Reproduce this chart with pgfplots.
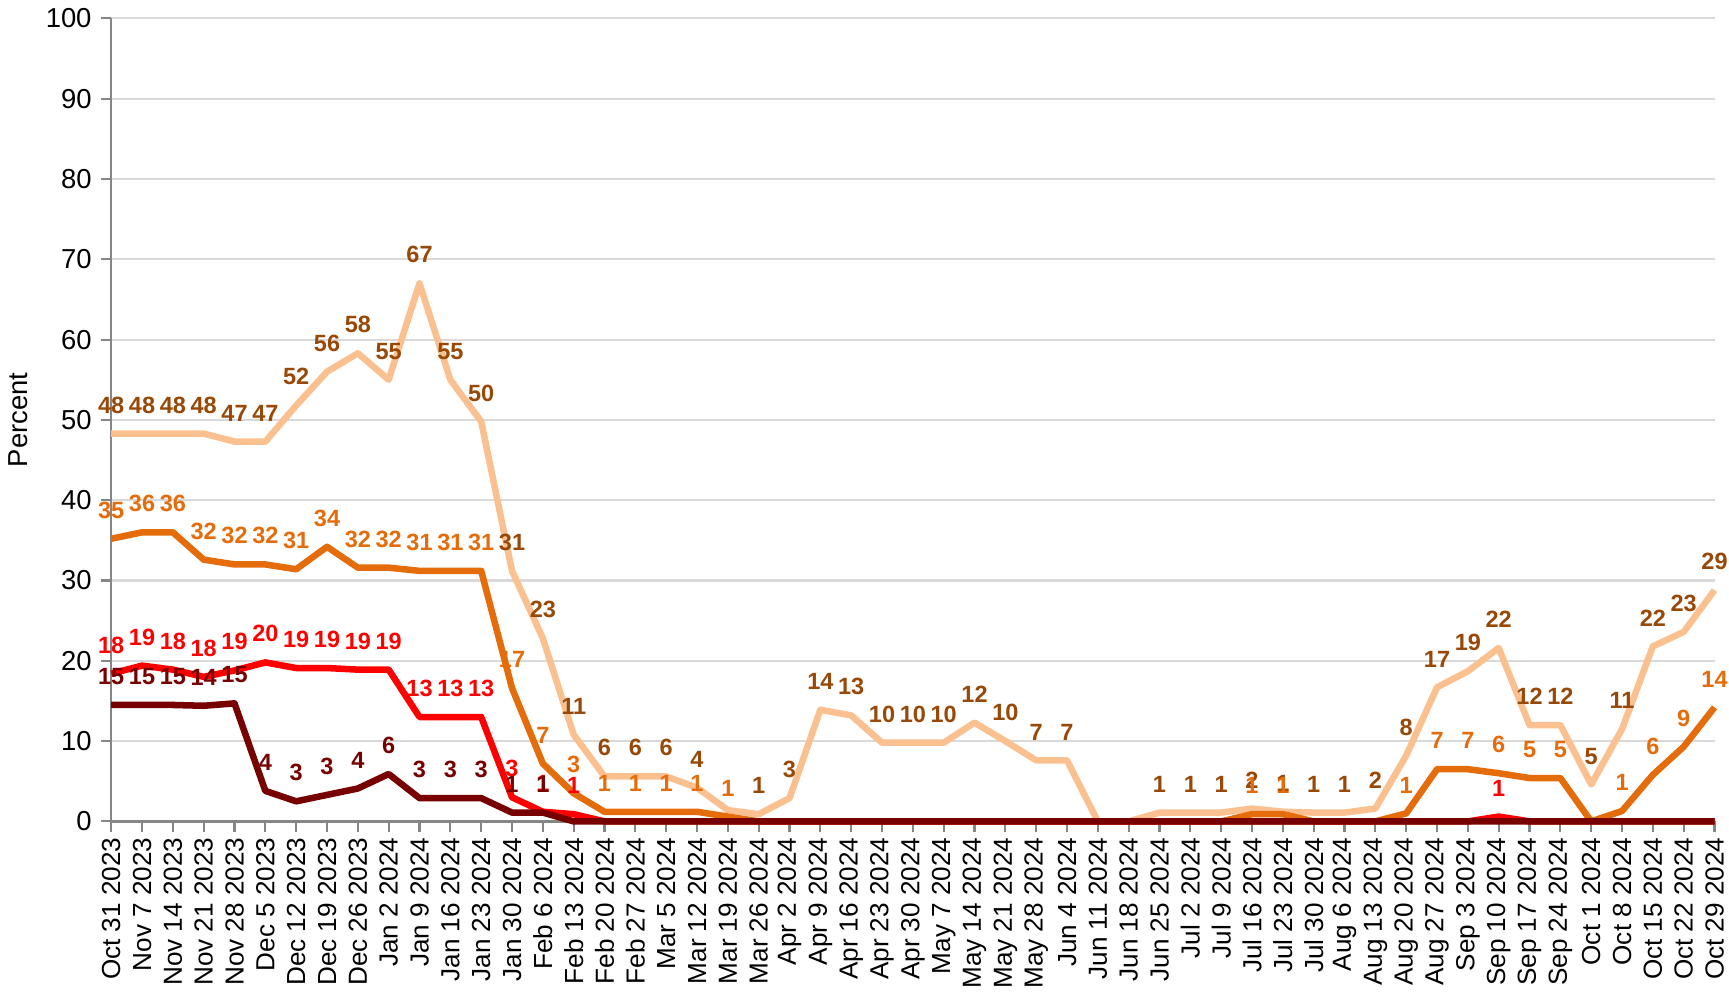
\documentclass[border=0pt]{standalone}
\usepackage{fontspec}
\setmainfont{Liberation Sans}
\usepackage{pgfplots}
\pgfplotsset{compat=1.18}
\definecolor{cLight}{HTML}{FAC090}
\definecolor{cBrown}{HTML}{984807}
\definecolor{cOrange}{HTML}{E46C0A}
\definecolor{cRed}{HTML}{FF0000}
\definecolor{cDark}{HTML}{770000}
\definecolor{cGrid}{HTML}{D9D9D9}
\definecolor{cAxis}{HTML}{868686}
\begin{document}
\begin{tikzpicture}
\begin{axis}[
  scale only axis, width=614pt, height=307.5pt,
  xmin=0, xmax=52, ymin=0, ymax=100,
  clip=false,
  axis lines*=left,
  axis line style={draw=cAxis, line width=0.9pt},
  tick align=outside,
  major tick length=4pt,
  tick style={draw=cAxis, line width=0.8pt},
  ymajorgrids, grid style={draw=cGrid, line width=0.8pt},
  ytick={0,10,...,100},
  xtick={0,...,52},
  xticklabels={Oct 31 2023, Nov 7 2023, Nov 14 2023, Nov 21 2023, Nov 28 2023, Dec 5 2023, Dec 12 2023, Dec 19 2023, Dec 26 2023, Jan 2 2024, Jan 9 2024, Jan 16 2024, Jan 23 2024, Jan 30 2024, Feb 6 2024, Feb 13 2024, Feb 20 2024, Feb 27 2024, Mar 5 2024, Mar 12 2024, Mar 19 2024, Mar 26 2024, Apr 2 2024, Apr 9 2024, Apr 16 2024, Apr 23 2024, Apr 30 2024, May 7 2024, May 14 2024, May 21 2024, May 28 2024, Jun 4 2024, Jun 11 2024, Jun 18 2024, Jun 25 2024, Jul 2 2024, Jul 9 2024, Jul 16 2024, Jul 23 2024, Jul 30 2024, Aug 6 2024, Aug 13 2024, Aug 20 2024, Aug 27 2024, Sep 3 2024, Sep 10 2024, Sep 17 2024, Sep 24 2024, Oct 1 2024, Oct 8 2024, Oct 15 2024, Oct 22 2024, Oct 29 2024},
  x tick label style={rotate=90, anchor=east, font=\fontsize{10}{12}\selectfont, inner sep=2pt},
  y tick label style={font=\fontsize{10.5}{12}\selectfont},
  /pgf/number format/assume math mode=true,
  ylabel={Percent},
  ylabel style={font=\fontsize{10.5}{12}\selectfont},
  point meta=explicit symbolic,
  nodes near coords={\pgfplotspointmeta},
  every node near coord/.append style={font=\fontsize{9}{10}\selectfont\bfseries, anchor=south, inner sep=0pt, yshift=6.5pt},
  every axis plot/.append style={line width=2.5pt, no markers, line join=round},
]
% light series
\addplot[color=cLight, every node near coord/.append style={text=cBrown}] coordinates {
(0,48.3)[48] (1,48.3)[48] (2,48.3)[48] (3,48.3)[48] (4,47.3)[47] (5,47.3)[47]
(6,51.8)[52] (7,56.0)[56] (8,58.3)[58] (9,55.0)[55] (10,67.0)[67] (11,55.0)[55]
(12,49.8)[50] (13,31.2)[31] (14,22.8)[23] (15,10.8)[11] (16,5.6)[6] (17,5.6)[6]
(18,5.6)[6] (19,4.2)[4] (20,1.4)[] (21,0.9)[1] (22,2.9)[3] (23,13.9)[14]
(24,13.2)[13] (25,9.8)[10] (26,9.8)[10] (27,9.8)[10] (28,12.3)[12] (29,10.0)[10]
(30,7.6)[7] (31,7.6)[7] (32,0)[] (33,0)[] (34,1.1)[1] (35,1.1)[1]
(36,1.1)[1] (37,1.6)[2] (38,1.2)[1] (39,1.1)[1] (40,1.1)[1] (41,1.6)[2]
(42,8.2)[8] (43,16.7)[17] (44,18.7)[19] (45,21.6)[22] (46,12.0)[12] (47,12.0)[12]
(48,4.6)[5] (49,11.5)[11] (50,21.8)[22] (51,23.6)[23] (52,28.8)[29]
};
% orange series
\addplot[color=cOrange, every node near coord/.append style={text=cOrange}] coordinates {
(0,35.2)[35] (1,36.0)[36] (2,36.0)[36] (3,32.6)[32] (4,32.0)[32] (5,32.0)[32]
(6,31.4)[31] (7,34.2)[34] (8,31.6)[32] (9,31.6)[32] (10,31.2)[31] (11,31.2)[31]
(12,31.2)[31] (13,16.6)[17] (14,7.2)[7] (15,3.5)[3] (16,1.2)[1] (17,1.2)[1]
(18,1.2)[1] (19,1.2)[1] (20,0.6)[1] (21,0)[] (22,0)[] (23,0)[]
(24,0)[] (25,0)[] (26,0)[] (27,0)[] (28,0)[] (29,0)[]
(30,0)[] (31,0)[] (32,0)[] (33,0)[] (34,0)[] (35,0)[]
(36,0)[] (37,0.9)[1] (38,0.9)[1] (39,0)[] (40,0)[] (41,0)[]
(42,1.0)[1] (43,6.5)[7] (44,6.5)[7] (45,6.0)[6] (46,5.4)[5] (47,5.4)[5]
(48,0)[] (49,1.3)[1] (50,5.8)[6] (51,9.3)[9] (52,14.2)[14]
};
% red series
\addplot[color=cRed, every node near coord/.append style={text=cRed}] coordinates {
(0,18.4)[18] (1,19.4)[19] (2,18.9)[18] (3,18.0)[18] (4,18.8)[19] (5,19.8)[20]
(6,19.1)[19] (7,19.1)[19] (8,18.9)[19] (9,18.9)[19] (10,13.0)[13] (11,13.0)[13]
(12,13.0)[13] (13,3.0)[3] (14,1.2)[1] (15,0.9)[1] (16,0)[] (17,0)[]
(18,0)[] (19,0)[] (20,0)[] (21,0)[] (22,0)[] (23,0)[]
(24,0)[] (25,0)[] (26,0)[] (27,0)[] (28,0)[] (29,0)[]
(30,0)[] (31,0)[] (32,0)[] (33,0)[] (34,0)[] (35,0)[]
(36,0)[] (37,0)[] (38,0)[] (39,0)[] (40,0)[] (41,0)[]
(42,0)[] (43,0)[] (44,0)[] (45,0.6)[1] (46,0)[] (47,0)[]
(48,0)[] (49,0)[] (50,0)[] (51,0)[] (52,0)[]
};
% dark series
\addplot[color=cDark, every node near coord/.append style={text=cDark}] coordinates {
(0,14.5)[15] (1,14.5)[15] (2,14.5)[15] (3,14.4)[14] (4,14.7)[15] (5,3.8)[4]
(6,2.5)[3] (7,3.3)[3] (8,4.1)[4] (9,5.9)[6] (10,2.9)[3] (11,2.9)[3]
(12,2.9)[3] (13,1.1)[1] (14,1.1)[1] (15,0)[] (16,0)[] (17,0)[]
(18,0)[] (19,0)[] (20,0)[] (21,0)[] (22,0)[] (23,0)[]
(24,0)[] (25,0)[] (26,0)[] (27,0)[] (28,0)[] (29,0)[]
(30,0)[] (31,0)[] (32,0)[] (33,0)[] (34,0)[] (35,0)[]
(36,0)[] (37,0)[] (38,0)[] (39,0)[] (40,0)[] (41,0)[]
(42,0)[] (43,0)[] (44,0)[] (45,0)[] (46,0)[] (47,0)[]
(48,0)[] (49,0)[] (50,0)[] (51,0)[] (52,0)[]
};
\end{axis}
\end{tikzpicture}
\end{document}
